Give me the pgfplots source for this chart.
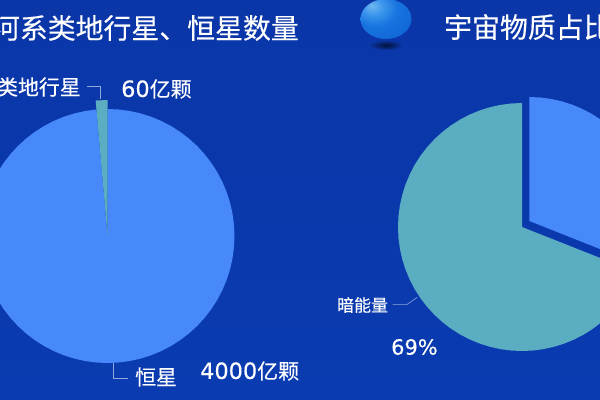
\documentclass[border=0pt]{standalone}
\usepackage{pgfplots}
\pgfplotsset{compat=1.18}
\usepackage{pgfplotstable}
\usepackage{fontspec}
\setmainfont{Noto Sans CJK SC}[FakeBold=0.25]
\newfontfamily\numfont{DejaVu Sans}[FakeBold=0.3]

\definecolor{bgtop}{HTML}{0A36A8}
\definecolor{bgbot}{HTML}{0A3BB0}
\definecolor{pieblue}{HTML}{4788FA}
\definecolor{pieteal}{HTML}{5BADC2}
\definecolor{leader}{HTML}{8FA8E0}
\definecolor{sphA}{HTML}{6FB8F0}
\definecolor{sphB}{HTML}{3C96EC}
\definecolor{sphC}{HTML}{1874E0}
\definecolor{sphD}{HTML}{0F66D4}
\definecolor{sphE}{HTML}{0E5CC6}
\pgfdeclareradialshading{sphere}{\pgfpoint{-14bp}{17bp}}{%
  color(0bp)=(sphA); color(10bp)=(sphB); color(22bp)=(sphC); color(40bp)=(sphD); color(60bp)=(sphE); color(100bp)=(sphE)}

% angle in degrees, f = share of the radius (0 is the centre)
\pgfplotstableread{
a f
0 0
95 1 
100 1
105 1
110 1
115 1
120 1
125 1
130 1
135 1
140 1
145 1
150 1
155 1
160 1
165 1
170 1
175 1
180 1
185 1
190 1
195 1
200 1
205 1
210 1
215 1
220 1
225 1
230 1
235 1
240 1
245 1
250 1
255 1
260 1
265 1
270 1
275 1
280 1
285 1
290 1
295 1
300 1
305 1
310 1
315 1
320 1
325 1
330 1
335 1
340 1
345 1
350 1
355 1
360 1
365 1
370 1
375 1
380 1
385 1
390 1
395 1
400 1
405 1
410 1
415 1
420 1
425 1
430 1
435 1
440 1
445 1
450 1
}\starsslice
\pgfplotstableread{
a f
0 0
90 1
95 1
}\planetslice
\pgfplotstableread{
a f
0 0
90 1
95 1
100 1
105 1
110 1
115 1
120 1
125 1
130 1
135 1
140 1
145 1
150 1
155 1
160 1
165 1
170 1
175 1
180 1
185 1
190 1
195 1
200 1
205 1
210 1
215 1
220 1
225 1
230 1
235 1
240 1
245 1
250 1
255 1
260 1
265 1
270 1
275 1
280 1
285 1
290 1
295 1
300 1
305 1
310 1
315 1
320 1
325 1
330 1
335 1
338.4 1
}\darkenergy
\pgfplotstableread{
a f
0 0
-21.6 1
-15 1
-10 1
-5 1
0 1
5 1
10 1
15 1
20 1
25 1
30 1
35 1
40 1
45 1
50 1
55 1
60 1
65 1
70 1
75 1
80 1
85 1
90 1
}\matter

% colour, centre x, centre y, radius, table
\newcommand{\slice}[5]{%
  \addplot[draw=none,fill=#1] table[
    x expr={#2+#4*\thisrow{f}*cos(\thisrow{a})},
    y expr={#3-#4*\thisrow{f}*sin(\thisrow{a})}] {#5};
}

\begin{document}
\begin{tikzpicture}
\path[use as bounding box] (0,0) rectangle (600bp,400bp);
\clip (0,0) rectangle (600bp,400bp);
\shade[top color=bgtop,bottom color=bgbot] (0,0) rectangle (600bp,400bp);
\begin{axis}[
    at={(0,0)},anchor=south west,
    scale only axis,width=600bp,height=400bp,
    xmin=0,xmax=600,ymin=0,ymax=400,
    y dir=reverse,
    hide axis,
    every axis plot/.append style={no markers},
  ]
  \slice{pieblue}{107.5}{236}{127}{\starsslice}
  \slice{pieteal}{107.5}{236}{136}{\planetslice}
  \slice{pieteal}{522}{227}{124}{\darkenergy}
  \slice{pieblue}{529.3}{221}{124}{\matter}

  % leader lines
  \addplot[leader,line width=0.6pt] coordinates {(87,86) (100.7,86) (100.7,99)};
  \addplot[leader,line width=0.6pt] coordinates {(113.3,363) (113.3,378.3) (128.3,378.3)};
  \addplot[leader,line width=0.6pt] coordinates {(392.7,304.3) (407.3,304.3) (417.3,297.3)};

  % sphere
  \shade[inner color=bgtop!35!black,outer color=bgtop]
    (axis cs:386,45) ellipse [x radius=17bp,y radius=5bp];
  \shade[shading=sphere]
    (axis cs:386,19) ellipse [x radius=25.5bp,y radius=20bp];

  \begin{scope}[every node/.style={text=white,inner sep=0pt,font=\fontsize{21}{24}\selectfont}]
    \node[anchor=east,font=\fontsize{28}{30}\selectfont] at (axis cs:299,28) {河系类地行星、恒星数量};
    \node[anchor=west,font=\fontsize{28}{30}\selectfont] at (axis cs:444,27) {宇宙物质占比};
    \node[anchor=east] at (axis cs:81,87) {类地行星};
    \node[anchor=west] at (axis cs:121,89) {{\numfont\fontsize{22.5}{24}\selectfont 60}亿颗};
    \node[anchor=west] at (axis cs:135,377) {恒星};
    \node[anchor=west] at (axis cs:200,371) {{\numfont\fontsize{22.5}{24}\selectfont 4000}亿颗};
    \node[anchor=west,font=\fontsize{17}{20}\selectfont] at (axis cs:337,305) {暗能量};
    \node[anchor=west] at (axis cs:391,347) {\numfont 69\%};
  \end{scope}
\end{axis}
\end{tikzpicture}
\end{document}
